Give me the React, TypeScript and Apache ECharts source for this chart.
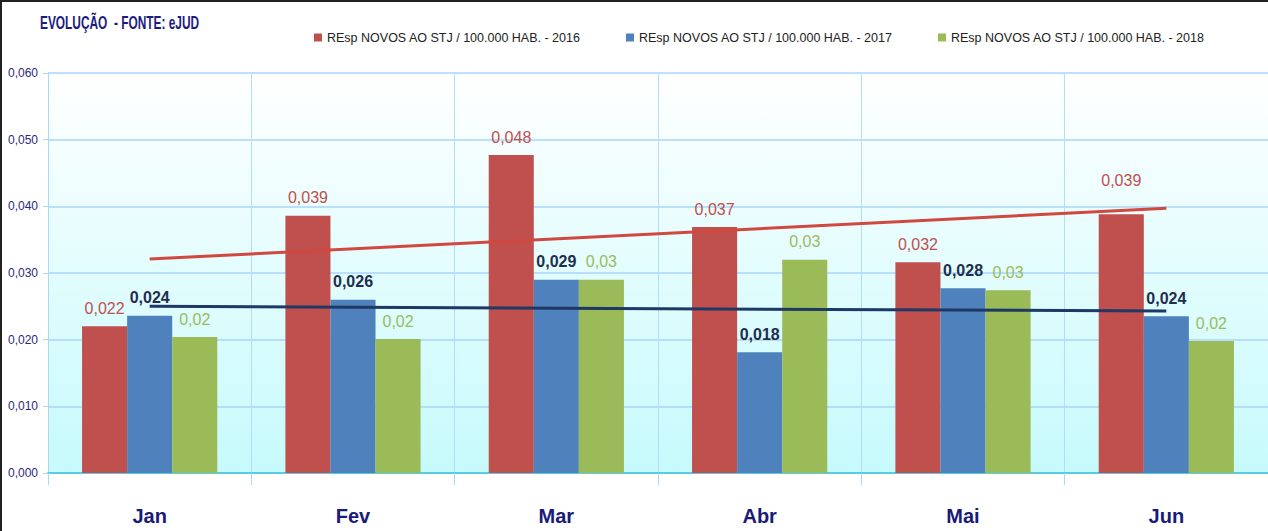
import React, { useEffect, useRef } from "react";
import * as echarts from "echarts";

const months = ["Jan", "Fev", "Mar", "Abr", "Mai", "Jun"];
const names = [
  "REsp NOVOS AO STJ / 100.000 HAB. - 2016",
  "REsp NOVOS AO STJ / 100.000 HAB. - 2017",
  "REsp NOVOS AO STJ / 100.000 HAB. - 2018",
];
const v2016 = [0.022, 0.0386, 0.0477, 0.0369, 0.0316, 0.0388];
const v2017 = [0.0236, 0.026, 0.029, 0.0181, 0.0277, 0.0235];
const v2018 = [0.0204, 0.0201, 0.029, 0.032, 0.0274, 0.0198];
// linear trend lines (start at Jan, end at Jun)
const trend2016 = [0.0321, 0.0397];
const trend2017 = [0.025, 0.0243];
const yTicks = [0, 0.01, 0.02, 0.03, 0.04, 0.05, 0.06];

const FONT = "'Liberation Sans', Arial, sans-serif";

const fmt = (v: number, d: number) => v.toFixed(d).replace(".", ",");

const trendData = (t: number[]) =>
  months.map((_, i) => (i === 0 ? t[0] : i === months.length - 1 ? t[1] : null));

export default function App() {
  const ref = useRef<HTMLDivElement>(null);
  useEffect(() => {
    if (!ref.current) return;
    const chart = echarts.init(ref.current, undefined, { renderer: "svg" });
    const colors = ["#c0504d", "#4f81bd", "#9bbb59"];
    const labelColors = ["#c0504d", "#1f2d4e", "#9bbb59"];
    const barLabel = (idx: number, decimals: number, weight: string) => ({
      show: true,
      position: "top" as const,
      distance: 10,
      fontFamily: FONT,
      fontSize: 16,
      fontWeight: weight,
      color: labelColors[idx],
      formatter: (p: any) => fmt(p.value as number, decimals),
    });
    const legendBase = {
      top: 26,
      itemWidth: 8,
      itemHeight: 8,
      icon: "rect",
      textStyle: { fontFamily: FONT, fontSize: 12.5, color: "#222" },
      itemGap: 5,
    };
    chart.setOption({
      animation: false,
      backgroundColor: "#ffffff",
      legend: [
        { ...legendBase, left: 309, data: [names[0]] },
        { ...legendBase, left: 621, data: [names[1]] },
        { ...legendBase, left: 933, data: [names[2]] },
      ],
      grid: {
        left: 48,
        top: 73,
        width: 1227,
        bottom: 58,
        show: true,
        borderWidth: 0,
        backgroundColor: {
          type: "linear",
          x: 0,
          y: 0,
          x2: 0,
          y2: 1,
          colorStops: [
            { offset: 0, color: "#ffffff" },
            { offset: 1, color: "#c6fafc" },
          ],
        },
      },
      xAxis: {
        type: "category",
        data: months,
        boundaryGap: true,
        axisLine: { lineStyle: { color: "#58cde0", width: 2 } },
        axisTick: { show: true, length: 12, lineStyle: { color: "#a8d8f2" } },
        splitLine: { show: true, lineStyle: { color: "#b6dcfa", width: 1 } },
        axisLabel: {
          fontFamily: FONT,
          fontSize: 20,
          fontWeight: "bold",
          color: "#1a1a78",
          margin: 33,
        },
      },
      yAxis: {
        type: "value",
        min: 0,
        max: 0.06,
        interval: 0.01,
        axisLine: { show: true, lineStyle: { color: "#a8d8f2" } },
        axisTick: { show: true, length: 5, lineStyle: { color: "#a8d8f2" } },
        splitLine: { show: true, lineStyle: { color: "#aad4fa", width: 1.5 } },
        axisLabel: {
          fontFamily: FONT,
          fontSize: 12,
          color: "#2a2a80",
          margin: 10,
          formatter: (v: number) => (yTicks.includes(Math.round(v * 1000) / 1000) ? fmt(v, 3) : ""),
        },
      },
      series: [
        {
          name: names[0],
          type: "bar",
          data: v2016.map((v, i) => (i === 5 ? { value: v, label: { distance: 26 } } : v)),
          itemStyle: { color: colors[0] },
          barGap: "0%",
          barCategoryGap: "33.5%",
          label: barLabel(0, 3, "normal"),
        },
        {
          name: names[1],
          type: "bar",
          data: v2017,
          itemStyle: { color: colors[1] },
          barGap: "0%",
          barCategoryGap: "33.5%",
          label: barLabel(1, 3, "bold"),
        },
        {
          name: names[2],
          type: "bar",
          data: v2018,
          itemStyle: { color: colors[2] },
          barGap: "0%",
          barCategoryGap: "33.5%",
          label: barLabel(2, 2, "normal"),
        },
        {
          name: "Linear (2016)",
          type: "line",
          data: trendData(trend2016),
          connectNulls: true,
          showSymbol: false,
          symbol: "none",
          lineStyle: { color: "#d0483f", width: 3 },
          z: 5,
        },
        {
          name: "Linear (2017)",
          type: "line",
          data: trendData(trend2017),
          connectNulls: true,
          showSymbol: false,
          symbol: "none",
          lineStyle: { color: "#1f3864", width: 3 },
          z: 5,
        },
      ],
      graphic: [
        {
          type: "text",
          x: 40,
          y: 23,
          scaleX: 0.66,
          style: {
            text: "EVOLUÇÃO  - FONTE: eJUD",
            fontFamily: FONT,
            fontSize: 18,
            fontWeight: "bold",
            fill: "#1c1c80",
            verticalAlign: "middle",
          },
        },
        { type: "rect", left: 0, top: 0, shape: { width: 1268, height: 2 }, style: { fill: "#222" }, z: 100 },
        { type: "rect", left: 0, top: 0, shape: { width: 2, height: 531 }, style: { fill: "#222" }, z: 100 },
      ],
    });
    return () => chart.dispose();
  }, []);
  return (
    <div
      ref={ref}
      style={{ position: "fixed", left: 0, top: 0, width: 1268, height: 531 }}
    />
  );
}
